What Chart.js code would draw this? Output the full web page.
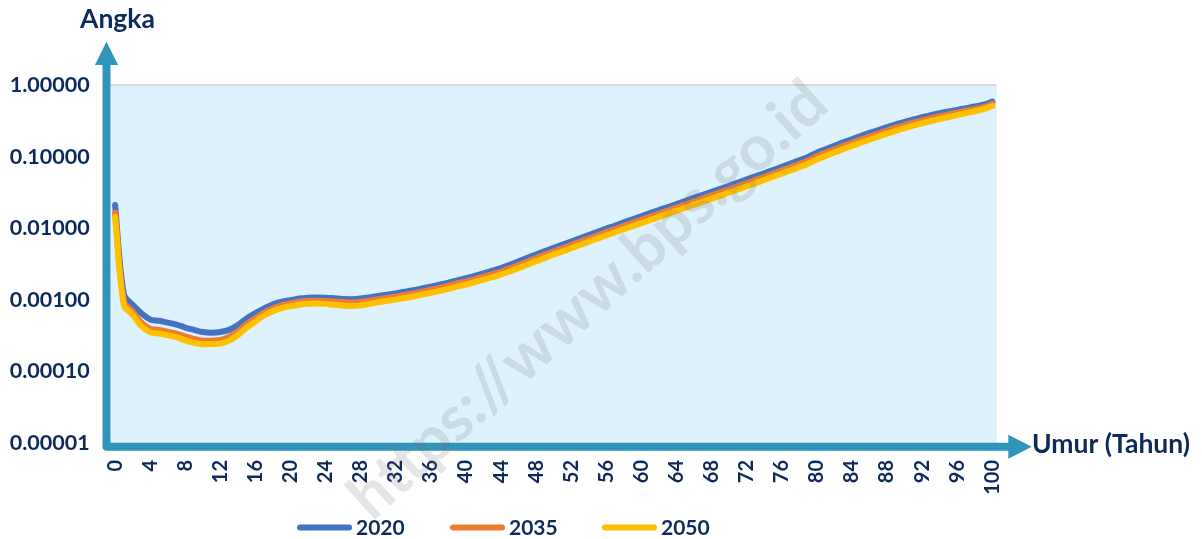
<!DOCTYPE html>
<html><head><meta charset="utf-8">
<script src="https://cdn.jsdelivr.net/npm/chart.js@4.4.1/dist/chart.umd.min.js"></script>
<style>html,body{margin:0;padding:0;background:#fff;}canvas{display:block;}</style>
</head><body>
<canvas id="c" width="1202" height="539"></canvas>
<script>
const ages = ['0','1','2','3','4','5','6','7','8','9','10','11','12','13','14','15','16','17','18','19','20',
'21','22','23','24','25','26','27','28','29','30','31','32','33','34','35','36','37','38','39','40',
'41','42','43','44','45','46','47','48','49','50','51','52','53','54','55','56','57','58','59','60',
'61','62','63','64','65','66','67','68','69','70','71','72','73','74','75','76','77','78','79','80',
'81','82','83','84','85','86','87','88','89','90','91','92','93','94','95','96','97','98','99','100'];
const xTickStep = 4;
const yTickValues = [0.00001, 0.0001, 0.001, 0.01, 0.1, 1];
const seriesNames = ['2020', '2035', '2050'];

const mort2020 = [0.0211,0.0012,0.00085,0.00065,0.00053,0.00051,0.00048,0.00045,0.00041,0.00038,
0.000355,0.000347,0.000355,0.00038,0.000445,0.00055,0.00065,0.00076,0.000865,0.00094,
0.00099,0.00104,0.00107,0.00108,0.00107,0.00105,0.00103,0.00102,0.00104,0.00108,
0.00113,0.00118,0.00123,0.0013,0.00136,0.00144,0.00153,0.00163,0.00174,0.00187,
0.002,0.00216,0.00234,0.00255,0.00278,0.00309,0.00344,0.00385,0.0043,0.00479,
0.00531,0.00589,0.00653,0.00724,0.00804,0.00891,0.00989,0.0109,0.0121,0.0133,
0.0147,0.0162,0.0179,0.0197,0.0218,0.024,0.0265,0.0292,0.0322,0.0355,
0.0392,0.0433,0.0479,0.053,0.0586,0.0649,0.0719,0.0798,0.0885,0.0989,
0.1135,0.127,0.142,0.158,0.175,0.194,0.214,0.235,0.258,0.282,
0.305,0.331,0.355,0.38,0.403,0.427,0.45,0.476,0.5,0.531,0.585];

const mort2035 = [0.0165,0.00095,0.000687,0.00048,0.000395,0.00038,0.000359,0.000337,0.000308,0.000285,
0.000269,0.000269,0.000275,0.000302,0.000361,0.000457,0.000553,0.00066,0.000762,0.000838,
0.000893,0.000938,0.000966,0.000973,0.000966,0.000944,0.000929,0.000918,0.000933,0.000973,
0.00102,0.001064,0.00111,0.00117,0.00123,0.0013,0.00138,0.00147,0.00157,0.00169,
0.0018,0.00194,0.0021,0.00229,0.00248,0.00275,0.00307,0.00343,0.00383,0.00427,
0.00473,0.00525,0.00582,0.00646,0.00716,0.00794,0.00881,0.00973,0.0108,0.0119,
0.0131,0.0145,0.016,0.0176,0.0194,0.0214,0.0236,0.026,0.0287,0.0316,
0.0349,0.0385,0.0427,0.0472,0.0522,0.0578,0.0641,0.0711,0.0789,0.0881,
0.101,0.1135,0.126,0.141,0.156,0.173,0.191,0.21,0.231,0.253,
0.275,0.299,0.321,0.344,0.366,0.389,0.411,0.437,0.461,0.491,0.546];

const mort2050 = [0.0144,0.00085,0.000617,0.00043,0.000352,0.000339,0.00032,0.0003,0.000271,0.000251,
0.00024,0.000242,0.000245,0.000269,0.000322,0.000407,0.000499,0.000603,0.000695,0.000764,
0.000815,0.000855,0.000881,0.000887,0.000877,0.000851,0.000828,0.000818,0.000836,0.000877,
0.000923,0.000966,0.00101,0.00106,0.00111,0.00118,0.00125,0.00133,0.00142,0.00153,
0.00163,0.00176,0.00191,0.00207,0.00225,0.00248,0.00277,0.00309,0.00345,0.00385,
0.00427,0.00473,0.00525,0.00582,0.00646,0.00716,0.00794,0.00877,0.0097,0.0107,
0.0118,0.013,0.0144,0.0158,0.0175,0.0193,0.0213,0.0234,0.0259,0.0285,
0.0315,0.0348,0.0385,0.0426,0.0471,0.0521,0.0578,0.0641,0.0711,0.0794,
0.0912,0.102,0.114,0.127,0.141,0.156,0.172,0.19,0.209,0.229,
0.249,0.271,0.292,0.314,0.335,0.357,0.38,0.406,0.43,0.459,0.509];

const seriesColors = ['#4472C4', '#ED7D31', '#FFC000'];
const NAVY = '#0E2A5C';
const TEAL = '#3194BA';
const FONT = 'Lato';

const decorPlugin = {
  id: 'decor',
  beforeDatasetsDraw(chart) {
    const {ctx, chartArea: a} = chart;
    ctx.save();
    ctx.fillStyle = '#DDF2FC';
    ctx.fillRect(a.left, a.top, a.right - a.left, a.bottom - a.top);
    ctx.strokeStyle = '#D9D9D9';
    ctx.lineWidth = 2;
    ctx.beginPath();
    ctx.moveTo(a.left, a.top);
    ctx.lineTo(a.right, a.top);
    ctx.stroke();
    ctx.restore();
  },
  afterDraw(chart) {
    const {ctx, chartArea: a} = chart;
    ctx.save();
    // axes with arrows
    const ax = a.left - 4.2, ay = a.bottom + 3.7;
    ctx.strokeStyle = TEAL;
    ctx.fillStyle = TEAL;
    ctx.lineWidth = 8;
    ctx.lineJoin = 'round';
    ctx.beginPath();
    ctx.moveTo(ax, 64);
    ctx.lineTo(ax, ay);
    ctx.lineTo(1009, ay);
    ctx.stroke();
    ctx.beginPath();
    ctx.moveTo(ax - 11.6, 65);
    ctx.lineTo(ax + 11.6, 65);
    ctx.lineTo(ax, 41.7);
    ctx.closePath();
    ctx.fill();
    ctx.beginPath();
    ctx.moveTo(1008.3, ay - 12);
    ctx.lineTo(1008.3, ay + 12);
    ctx.lineTo(1031.7, ay);
    ctx.closePath();
    ctx.fill();
    // axis titles
    ctx.fillStyle = NAVY;
    ctx.font = 'bold 26.5px ' + FONT;
    ctx.textBaseline = 'alphabetic';
    ctx.textAlign = 'left';
    ctx.fillText('Angka', 80, 28.3);
    ctx.fillText('Umur (Tahun)', 1032, 453);
    // legend
    const lx = [297, 450, 602];
    ctx.lineCap = 'round';
    ctx.lineWidth = 6;
    ctx.font = 'bold 21px ' + FONT;
    ctx.textBaseline = 'middle';
    chart.data.datasets.forEach((ds, i) => {
      ctx.strokeStyle = ds.borderColor;
      ctx.beginPath();
      ctx.moveTo(lx[i] + 3, 527.5);
      ctx.lineTo(lx[i] + 52, 527.5);
      ctx.stroke();
      ctx.fillStyle = NAVY;
      ctx.fillText(ds.label, lx[i] + 59, 528);
    });
    // watermark
    ctx.translate(588, 300);
    ctx.rotate(-42 * Math.PI / 180);
    ctx.font = 'bold 63px ' + FONT;
    ctx.textAlign = 'center';
    ctx.textBaseline = 'middle';
    ctx.fillStyle = 'rgba(110,110,120,0.18)';
    ctx.fillText('https://www.bps.go.id', 0, 0);
    ctx.restore();
  }
};

const tickFont = {family: FONT, weight: 'bold', size: 21.5};
const xFont = {family: FONT, weight: 'bold', size: 20};

new Chart(document.getElementById('c'), {
  type: 'line',
  data: {
    labels: ages,
    datasets: [
      {label: seriesNames[0], data: mort2020, borderColor: seriesColors[0], order: 2},
      {label: seriesNames[1], data: mort2035, borderColor: seriesColors[1], order: 1},
      {label: seriesNames[2], data: mort2050, borderColor: seriesColors[2], order: 0}
    ].map(d => Object.assign(d, {
      borderWidth: 6, pointRadius: 0, tension: 0.35, fill: false,
      borderCapStyle: 'round', borderJoinStyle: 'round', backgroundColor: d.borderColor
    }))
  },
  options: {
    responsive: false,
    animation: false,
    layout: {padding: {left: 0, top: 85, right: 205.3, bottom: 0}},
    plugins: {legend: {display: false}, tooltip: {enabled: false}},
    scales: {
      x: {
        type: 'category',
        offset: true,
        grid: {display: false, drawTicks: false},
        border: {display: false},
        ticks: {
          autoSkip: false, maxRotation: 90, minRotation: 90, padding: 17,
          color: NAVY, font: xFont,
          callback: (v, i) => (i % xTickStep === 0 ? ages[i] : '')
        },
        afterFit: s => { s.height = 96; }
      },
      y: {
        type: 'logarithmic',
        min: yTickValues[0],
        max: yTickValues[yTickValues.length - 1],
        grid: {display: false, drawTicks: false},
        border: {display: false},
        afterBuildTicks: s => { s.ticks = yTickValues.map(v => ({value: v})); },
        ticks: {
          padding: 21, color: NAVY, font: tickFont,
          callback: v => Number(v).toFixed(5)
        },
        afterFit: s => { s.width = 110.7; }
      }
    }
  },
  plugins: [decorPlugin]
});
</script>
</body></html>
